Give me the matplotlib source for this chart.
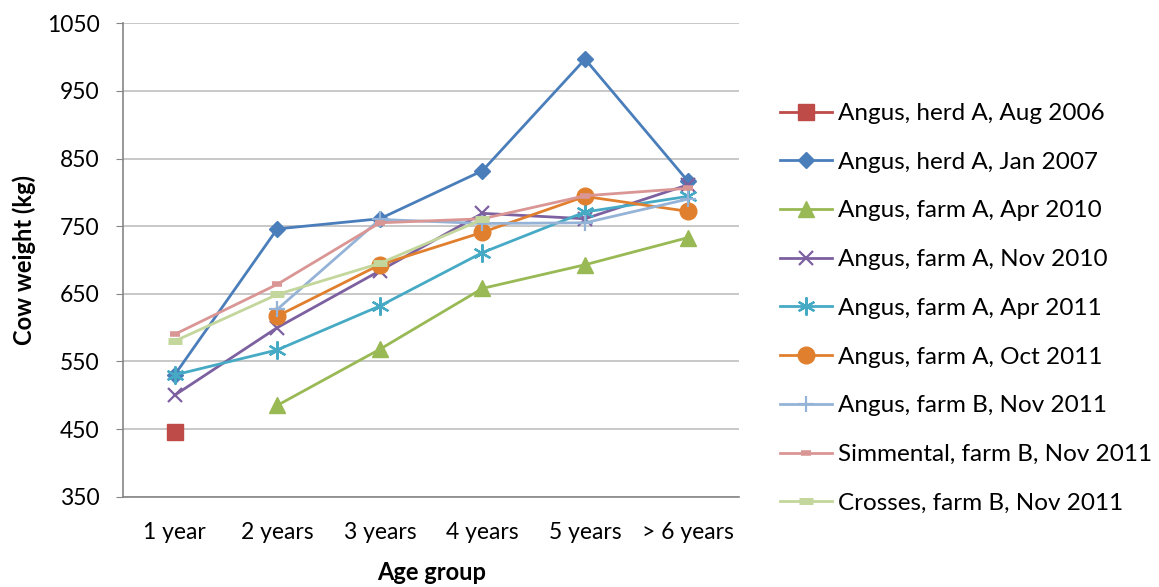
import matplotlib
matplotlib.use("Agg")
import matplotlib.pyplot as plt
import numpy as np

plt.rcParams['font.family'] = ['Lato', 'DejaVu Sans']

categories = ["1 year", "2 years", "3 years", "4 years", "5 years", "> 6 years"]
N = np.nan
aug2006 = [445, N, N, N, N, N]
jan2007 = [530, 746, 761, 832, 997, 817]
apr2010 = [N, 485, 568, 658, 693, 733]
nov2010 = [500, 600, 684, 769, 761, 811]
apr2011 = [530, 567, 632, 711, 771, 794]
oct2011 = [N, 617, 693, 741, 794, 772]
angusB = [N, 627, 760, 754, 755, 790]
simmental = [590, 664, 755, 761, 795, 806]
crosses = [580, 649, 695, 760, N, N]

labels = ["Angus, herd A, Aug 2006", "Angus, herd A, Jan 2007", "Angus, farm A, Apr 2010",
          "Angus, farm A, Nov 2010", "Angus, farm A, Apr 2011", "Angus, farm A, Oct 2011",
          "Angus, farm B, Nov 2011", "Simmental, farm B, Nov 2011", "Crosses, farm B, Nov 2011"]
yticks = [350, 450, 550, 650, 750, 850, 950, 1050]

series = [aug2006, jan2007, apr2010, nov2010, apr2011, oct2011, angusB, simmental, crosses]
styles = [
    dict(color="#BE4B48", marker="s", ms=11),
    dict(color="#4A7EBB", marker="D", ms=8.5),
    dict(color="#98B954", marker="^", ms=11),
    dict(color="#7D60A0", marker="x", ms=10, mew=1.6),
    dict(color="#46AAC5", marker=(6, 2, 0), ms=13, mew=1.6),
    dict(color="#E0802F", marker="o", ms=12),
    dict(color="#95B3D7", marker="+", ms=12, mew=1.6),
    dict(color="#D99694", marker="_", ms=7, mew=4),
    dict(color="#C3D69B", marker="_", ms=10, mew=5),
]

W, H = 1159, 587
fig = plt.figure(figsize=(W / 100, H / 100), dpi=100)
ax = fig.add_axes([123.3 / W, 1 - 496.7 / H, (739 - 123.3) / W, (496.7 - 23.3) / H])
x = np.arange(len(categories))
for vals, lab, st in zip(series, labels, styles):
    ax.plot(x, vals, label=lab, lw=2.0, color=st["color"], marker=st["marker"],
            markersize=st["ms"], markeredgewidth=st.get("mew", 1.0),
            markeredgecolor=st["color"], markerfacecolor=st["color"])

ax.set_xlim(-0.5, len(categories) - 0.5)
ax.set_ylim(350, 1050)
ax.set_yticks(yticks)
ax.set_xticks(x)
ax.set_xticklabels(categories)
ax.yaxis.grid(True, color="#BFBFBF", lw=1.2)
ax.set_axisbelow(True)
for s in ["top", "right"]:
    ax.spines[s].set_visible(False)
ax.spines["left"].set_color("#868686")
ax.spines["bottom"].set_color("#868686")
ax.spines["left"].set_linewidth(1.2)
ax.spines["bottom"].set_linewidth(1.2)
ax.tick_params(axis="y", length=5, color="#868686", labelsize=16.5, pad=12)
ax.tick_params(axis="x", length=0, labelsize=16.5, pad=18)
ax.set_ylabel("Cow weight (kg)", fontsize=17, fontweight="bold", labelpad=8)
ax.set_xlabel("Age group", fontsize=17, fontweight="bold", labelpad=13)

leg = fig.legend(*ax.get_legend_handles_labels(), loc="upper left",
                 bbox_to_anchor=(780 / W, 1 - 103 / H), bbox_transform=fig.transFigure,
                 frameon=False, fontsize=17.5, labelspacing=1.14, handlelength=2.15,
                 handletextpad=0.25, borderaxespad=0, borderpad=0)

fig.savefig("out.png", dpi=100)
